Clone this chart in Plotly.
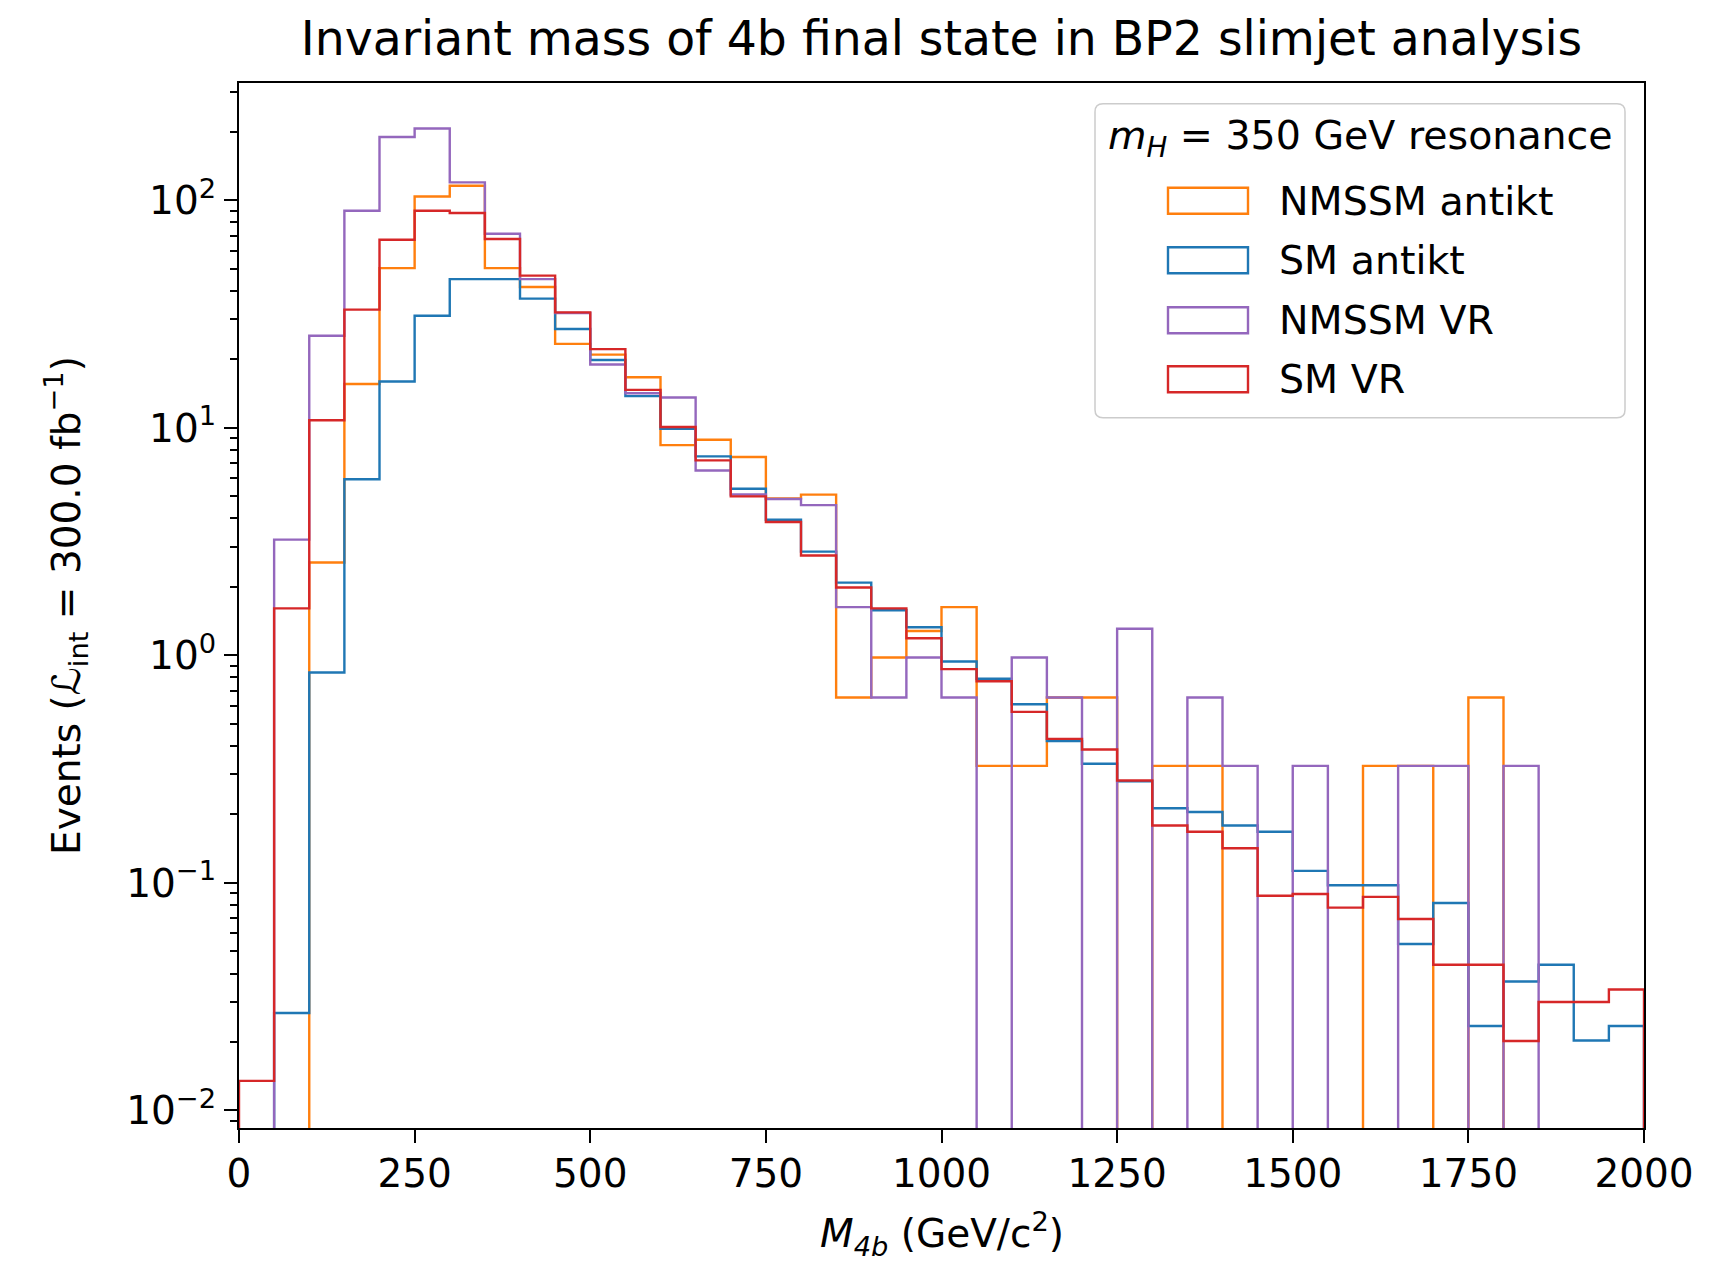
import numpy as np
import plotly.graph_objects as go

# ---------------- data ----------------
bin_edges = list(range(0, 2001, 50))  # M_4b bin edges (GeV/c^2)

nmssm_antikt = [0, 0, 2.56, 15.6, 50.4, 104, 116, 50.4, 41.6, 23.4,
                21.0, 16.7, 8.4, 8.87, 7.45, 4.9, 5.09, 0.653, 0.98, 1.28,
                1.63, 0.327, 0.327, 0.653, 0.653, 0, 0.327, 0.327, 0, 0,
                0, 0, 0.327, 0.327, 0, 0.653, 0, 0, 0, 0]
sm_antikt = [0, 0.0268, 0.842, 5.95, 16.0, 31.1, 45.1, 45.1, 37.0, 27.2,
             19.9, 13.8, 9.9, 7.5, 5.4, 3.95, 2.86, 2.09, 1.58, 1.33,
             0.94, 0.79, 0.61, 0.42, 0.334, 0.28, 0.213, 0.205, 0.179, 0.168,
             0.113, 0.0977, 0.0977, 0.0539, 0.0817, 0.0235, 0.0369, 0.0437, 0.0203, 0.0235]
nmssm_vr = [0, 3.23, 25.4, 90.1, 190, 207, 120, 71.4, 45.1, 32.0,
            19.0, 14.2, 13.6, 6.5, 5.1, 4.87, 4.58, 1.63, 0.653, 0.98,
            0.653, 0, 0.98, 0.653, 0, 1.31, 0, 0.653, 0.327, 0,
            0.327, 0, 0, 0.327, 0.327, 0, 0.327, 0, 0, 0]
sm_vr = [0.0135, 1.61, 10.8, 33.1, 67.2, 90.1, 88.0, 67.7, 46.7, 32.2,
         22.2, 14.7, 10.1, 7.2, 5.0, 3.86, 2.75, 1.99, 1.61, 1.19,
         0.871, 0.77, 0.565, 0.43, 0.386, 0.282, 0.179, 0.168, 0.142, 0.0878,
         0.0894, 0.0779, 0.0869, 0.0694, 0.0437, 0.0437, 0.0202, 0.030, 0.030, 0.034]

series_names = ["NMSSM antikt", "SM antikt", "NMSSM VR", "SM VR"]
series_values = [nmssm_antikt, sm_antikt, nmssm_vr, sm_vr]
series_colors = ["#ff7f0e", "#1f77b4", "#9467bd", "#d62728"]

y_major = [0.01, 0.1, 1, 10, 100]
y_major_text = ["10<sup>−2</sup>", "10<sup>−1</sup>", "10<sup>0</sup>", "10<sup>1</sup>", "10<sup>2</sup>"]
x_ticks = [0, 250, 500, 750, 1000, 1250, 1500, 1750, 2000]

# ---------------- layout geometry (page pixels) ----------------
PAGE_W, PAGE_H = 1722, 1263
OFF = 8  # default body margin of the html page
W, H = PAGE_W - 2 * OFF, PAGE_H - OFF
L, R, T, B = 239, 1644, 83.3, 1128.3          # plot area in page pixels
YLOG = [-2.077, 2.516]
FLOOR = 1e-4  # empty bins drop below the axis, like a step histogram on log axis
FONT = "DejaVu Sans"
FS = 39


def px(xp):
    return (xp - L) / (R - L)


def py(yp):
    return (B - yp) / (B - T)


fig = go.Figure()

for name, vals, col in zip(series_names, series_values, series_colors):
    v = [val if val > 0 else FLOOR for val in vals]
    xs = [bin_edges[0]] + bin_edges[:-1] + [bin_edges[-1]]
    ys = [FLOOR] + v + [FLOOR]
    fig.add_trace(go.Scatter(
        x=xs, y=ys, mode="lines", name=name,
        line=dict(color=col, width=2.4, shape="hv"),
        showlegend=False, hoverinfo="skip",
    ))

minor_vals = []
for d in range(-3, 3):
    for k in range(2, 10):
        val = k * 10.0 ** d
        if 10 ** YLOG[0] <= val <= 10 ** YLOG[1]:
            minor_vals.append(val)

fig.update_layout(
    width=W, height=H,
    margin=dict(l=L - OFF, r=(OFF + W) - R, t=T - OFF, b=(OFF + H) - B, pad=0,
                autoexpand=False),
    paper_bgcolor="white", plot_bgcolor="white",
    font=dict(family=FONT, size=FS, color="black"),
    title=dict(text="Invariant mass of 4b final state in BP2 slimjet analysis",
               x=0.5, xref="paper", xanchor="center",
               y=1 - (38 - OFF) / H, yref="container", yanchor="middle",
               font=dict(family=FONT, size=47.3, color="black")),
    xaxis=dict(
        range=[0, 2000], tickmode="array", tickvals=x_ticks,
        ticks="outside", ticklen=13, tickwidth=2, tickcolor="black",
        ticklabelstandoff=-3,
        showline=True, linecolor="black", linewidth=2.2, mirror=True,
        showgrid=False, zeroline=False,
        tickfont=dict(family=FONT, size=FS),
    ),
    yaxis=dict(
        type="log", range=YLOG, tickmode="array",
        tickvals=y_major, ticktext=y_major_text,
        ticks="outside", ticklen=13, tickwidth=2, tickcolor="black",
        minor=dict(tickmode="array", tickvals=minor_vals, ticks="outside",
                   ticklen=7, tickwidth=1.5, tickcolor="black", showgrid=False),
        showline=True, linecolor="black", linewidth=2.2, mirror=True,
        showgrid=False, zeroline=False,
        tickfont=dict(family=FONT, size=FS),
        title=dict(text="Events (ℒ<sub>int</sub> = 300.0 fb<sup>−1</sup>)",
                   font=dict(family=FONT, size=FS), standoff=34),
    ),
)

# x-axis title placed as an annotation (axis-title standoff is clamped by the margin)
fig.add_annotation(x=0.5, y=py(1234), xref="paper", yref="paper",
                   text="<i>M</i><sub><i>4b</i></sub> (GeV/c<sup>2</sup>)",
                   showarrow=False, xanchor="center", yanchor="middle",
                   font=dict(family=FONT, size=FS, color="black"))

# ---------------- legend (drawn manually to match outlined patches) ----------------
bx0, bx1, by0, by1, rr = 1095, 1625, 104, 418, 8
path = (f"M {px(bx0 + rr)},{py(by0)} L {px(bx1 - rr)},{py(by0)} "
        f"Q {px(bx1)},{py(by0)} {px(bx1)},{py(by0 + rr)} "
        f"L {px(bx1)},{py(by1 - rr)} Q {px(bx1)},{py(by1)} {px(bx1 - rr)},{py(by1)} "
        f"L {px(bx0 + rr)},{py(by1)} Q {px(bx0)},{py(by1)} {px(bx0)},{py(by1 - rr)} "
        f"L {px(bx0)},{py(by0 + rr)} Q {px(bx0)},{py(by0)} {px(bx0 + rr)},{py(by0)} Z")
fig.add_shape(type="path", path=path, xref="paper", yref="paper",
              line=dict(color="#cccccc", width=1.5),
              fillcolor="rgba(255,255,255,0.8)", layer="above")

fig.add_annotation(x=px((bx0 + bx1) / 2), y=py(138), xref="paper", yref="paper",
                   text="<i>m</i><sub><i>H</i></sub> = 350 GeV resonance",
                   showarrow=False, xanchor="center", yanchor="middle",
                   font=dict(family=FONT, size=FS + 0.5, color="black"))

row_centers = [201, 260.5, 320.5, 379.5]
for name, col, yc in zip(series_names, series_colors, row_centers):
    fig.add_shape(type="rect", xref="paper", yref="paper",
                  x0=px(1168), x1=px(1248), y0=py(yc - 13), y1=py(yc + 13),
                  line=dict(color=col, width=2.4), fillcolor="rgba(0,0,0,0)",
                  layer="above")
    fig.add_annotation(x=px(1277), y=py(yc), xref="paper", yref="paper",
                       text=name, showarrow=False, xanchor="left", yanchor="middle",
                       font=dict(family=FONT, size=FS + 0.5, color="black"))

fig.write_html("out.html")
